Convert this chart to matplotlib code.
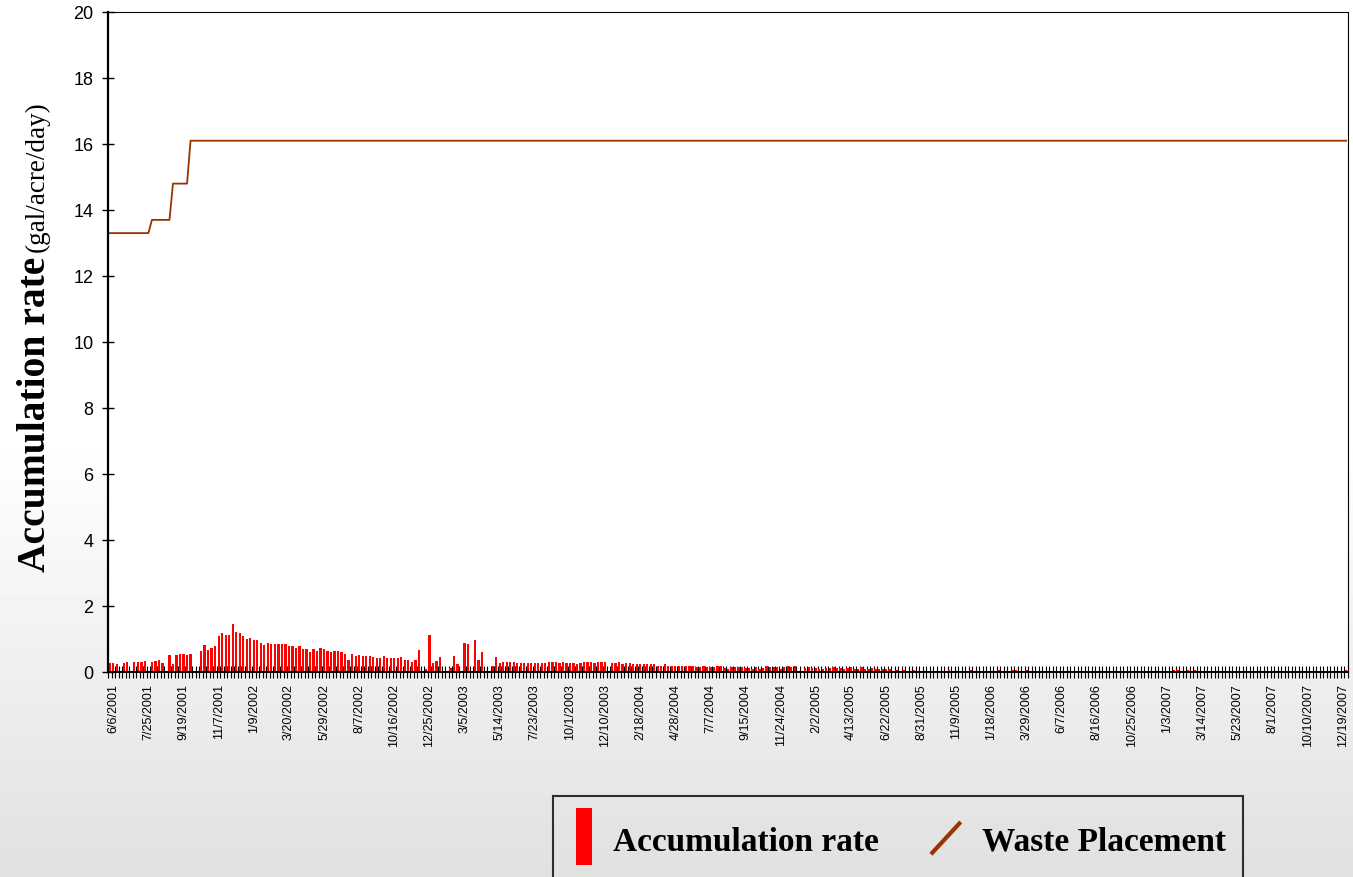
import numpy as np
import matplotlib
matplotlib.use("Agg")
import matplotlib.pyplot as plt
from matplotlib.patches import Patch, Rectangle
from matplotlib.lines import Line2D
from matplotlib.legend_handler import HandlerBase
from matplotlib.font_manager import FontProperties

# weekly accumulation rate (gal/acre/day), one value per category
accum_rate = [
    0.27, 0.27, 0.24, 0, 0.27, 0.30, 0, 0.30, 0.30, 0.30,
    0.33, 0, 0.30, 0.33, 0.36, 0.27, 0, 0.52, 0.24, 0.52,
    0.55, 0.55, 0.52, 0.55, 0.03, 0, 0.64, 0.82, 0.67, 0.73,
    0.79, 1.09, 1.18, 1.12, 1.12, 1.45, 1.21, 1.18, 1.09, 1.00,
    1.03, 0.97, 0.97, 0.88, 0.82, 0.88, 0.85, 0.85, 0.85, 0.85,
    0.85, 0.79, 0.79, 0.73, 0.79, 0.70, 0.70, 0.61, 0.70, 0.64,
    0.73, 0.70, 0.64, 0.61, 0.64, 0.64, 0.61, 0.55, 0.36, 0.55,
    0.48, 0.52, 0.48, 0.48, 0.48, 0.45, 0.42, 0.42, 0.48, 0.42,
    0.42, 0.42, 0.42, 0.45, 0.36, 0.36, 0.30, 0.36, 0.67, 0,
    0.09, 1.12, 0.27, 0.33, 0.45, 0, 0, 0.12, 0.48, 0.24,
    0, 0.88, 0.85, 0, 0.97, 0.36, 0.61, 0, 0, 0.18,
    0.45, 0.27, 0.30, 0.30, 0.30, 0.30, 0.27, 0.27, 0.27, 0.27,
    0.27, 0.27, 0.27, 0.27, 0.27, 0.30, 0.30, 0.30, 0.27, 0.30,
    0.27, 0.27, 0.27, 0.24, 0.27, 0.30, 0.30, 0.30, 0.27, 0.30,
    0.30, 0.30, 0, 0.27, 0.27, 0.30, 0.24, 0.27, 0.27, 0.24,
    0.24, 0.24, 0.24, 0.24, 0.24, 0.24, 0.18, 0.18, 0.24, 0.18,
    0.18, 0.18, 0.18, 0.18, 0.18, 0.18, 0.18, 0.15, 0.15, 0.18,
    0.15, 0.15, 0.15, 0.18, 0.18, 0.12, 0.09, 0.15, 0.15, 0.15,
    0.15, 0.12, 0.12, 0.09, 0.15, 0.09, 0.12, 0.18, 0.15, 0.15,
    0.15, 0.09, 0.15, 0.18, 0.15, 0.18, 0, 0, 0.12, 0.15,
    0.12, 0.12, 0.09, 0.09, 0.12, 0.12, 0.15, 0.12, 0.12, 0.09,
    0.12, 0.15, 0.09, 0.09, 0.15, 0.09, 0.09, 0.12, 0.09, 0.09,
    0.09, 0.09, 0.09, 0, 0.06, 0, 0.06, 0, 0.03, 0.06,
    0, 0, 0.04, 0.04, 0.03, 0.04, 0.04, 0.03, 0.04, 0.06,
    0.04, 0.03, 0, 0, 0, 0.06, 0, 0, 0, 0,
    0, 0, 0, 0.06, 0.04, 0.04, 0.04, 0.06, 0.06, 0.04,
    0.04, 0.06, 0.04, 0.04, 0, 0.04, 0.04, 0.03, 0.04, 0.04,
    0, 0, 0, 0, 0, 0, 0, 0, 0, 0,
    0, 0, 0, 0, 0, 0, 0, 0, 0, 0,
    0, 0, 0, 0, 0, 0.03, 0.04, 0.04, 0.03, 0,
    0, 0, 0.04, 0.06, 0.06, 0.04, 0.03, 0.06, 0.04, 0.06,
    0.04, 0.04, 0.03, 0, 0.03, 0.04, 0.03, 0, 0, 0,
    0, 0, 0, 0, 0, 0, 0, 0, 0.03, 0,
    0, 0, 0.03, 0, 0, 0, 0.03, 0, 0, 0,
    0.03, 0, 0, 0, 0, 0.03, 0, 0, 0, 0.04,
    0.04, 0.04, 0.06,
]

# waste placement line: category index where it changes, and its level
waste_x = [0, 11, 12, 17, 18, 22, 23, 352]
waste_y = [13.3, 13.3, 13.7, 13.7, 14.8, 14.8, 16.1, 16.1]

date_labels = [
    "6/6/2001", "7/25/2001", "9/19/2001", "11/7/2001", "1/9/2002", "3/20/2002",
    "5/29/2002", "8/7/2002", "10/16/2002", "12/25/2002", "3/5/2003", "5/14/2003",
    "7/23/2003", "10/1/2003", "12/10/2003", "2/18/2004", "4/28/2004", "7/7/2004",
    "9/15/2004", "11/24/2004", "2/2/2005", "4/13/2005", "6/22/2005", "8/31/2005",
    "11/9/2005", "1/18/2006", "3/29/2006", "6/7/2006", "8/16/2006", "10/25/2006",
    "1/3/2007", "3/14/2007", "5/23/2007", "8/1/2007", "10/10/2007", "12/19/2007",
]
label_pos = [1 + 10 * k for k in range(len(date_labels))]

W, H = 1353, 878
fig = plt.figure(figsize=(W / 100, H / 100), dpi=100)

# light grey fade toward the bottom of the slide
bg = fig.add_axes([0, 0, 1, 1], zorder=-10)
rows = np.linspace(0, 1, H)
shade = np.where(rows < 0.5, 1.0, 1.0 - 0.12 * ((rows - 0.5) / 0.5))
bg.imshow(shade[:, None], aspect="auto", cmap="gray", vmin=0, vmax=1,
          extent=[0, 1, 0, 1])
bg.axis("off")

ax = fig.add_axes([108 / W, 205 / H, 1240 / W, 660 / H])
ax.set_facecolor("white")

n = len(accum_rate)
x = np.arange(n)
ax.bar(x, accum_rate, width=0.65, color="#ff0000", zorder=2)
ax.plot(waste_x, waste_y, color="#993300", lw=1.3, zorder=3)

ax.set_xlim(-0.5, n - 0.5)
ax.set_ylim(0, 20)
ax.set_yticks(range(0, 21, 2))
ax.tick_params(axis="y", direction="inout", length=9, width=1,
               labelsize=13, pad=6)
for t in ax.get_yticklabels():
    t.set_fontfamily("Liberation Sans")

ax.set_xticks(label_pos)
ax.set_xticklabels(date_labels, rotation=90, fontsize=9,
                   fontfamily="Liberation Sans")
ax.tick_params(axis="x", which="major", length=0, pad=8)
ax.set_xticks(np.arange(n + 1) - 0.5, minor=True)
ax.tick_params(axis="x", which="minor", direction="inout", length=8, width=0.8)

for s in ax.spines.values():
    s.set_linewidth(0.8)
ax.spines["left"].set_linewidth(1.6)
ax.spines["bottom"].set_linewidth(1.4)

# y axis title: bold part + regular part
fig.canvas.draw()
r = fig.canvas.get_renderer()
t1 = fig.text(36 / W, (H - 572) / H, "Accumulation rate", rotation=90,
              ha="center", va="bottom", fontsize=28.5, fontweight="bold",
              fontfamily="Liberation Serif")
bb = t1.get_window_extent(r)
t2 = fig.text(37 / W, (bb.y1 + 5) / H, "(gal/acre/day)", rotation=90,
              ha="center", va="bottom", fontsize=19.5,
              fontfamily="Liberation Serif")


class BarHandler(HandlerBase):
    def create_artists(self, legend, orig, xd, yd, width, height, fontsize, trans):
        bw = 0.48 * fontsize
        bh = 41
        return [Rectangle((-xd + width / 2 - bw / 2 - 2, -yd + height / 2 - bh / 2 + 2),
                          bw, bh, facecolor="#ff0000", edgecolor="none",
                          transform=trans)]


class SlashHandler(HandlerBase):
    def create_artists(self, legend, orig, xd, yd, width, height, fontsize, trans):
        cx = -xd + width / 2 - 7
        cy = -yd + height / 2 + 1
        return [Line2D([cx - 9.7, cx + 9.7], [cy - 10.5, cy + 10.5],
                       color="#993300", lw=3, transform=trans)]


leg = fig.legend(
    handles=[Patch(color="#ff0000"), Line2D([], [], color="#993300")],
    labels=["Accumulation rate", "Waste Placement"],
    handler_map={Patch: BarHandler(), Line2D: SlashHandler()},
    loc="upper left", bbox_to_anchor=(553 / W, (H - 797) / H), ncol=2,
    prop=FontProperties(family="Liberation Serif", weight="bold", size=24),
    frameon=True, fancybox=False, edgecolor="black", facecolor="none",
    borderpad=0.5, handlelength=1.0, handleheight=2.1, handletextpad=0.3,
    columnspacing=1.8, borderaxespad=0,
)
leg.get_frame().set_linewidth(1.5)

fig.savefig("out.png", dpi=100)
